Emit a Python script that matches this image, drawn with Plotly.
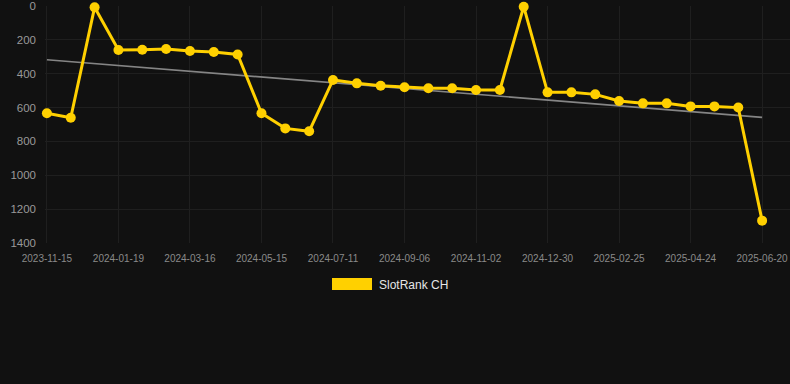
import numpy as np
import plotly.graph_objects as go

dates = [
    "2023-11-15", "2023-12-07", "2023-12-28", "2024-01-19", "2024-02-07", "2024-02-26",
    "2024-03-16", "2024-04-05", "2024-04-25", "2024-05-15", "2024-06-03", "2024-06-22",
    "2024-07-11", "2024-07-30", "2024-08-18", "2024-09-06", "2024-09-25", "2024-10-14",
    "2024-11-02", "2024-11-21", "2024-12-11", "2024-12-30", "2025-01-18", "2025-02-06",
    "2025-02-25", "2025-03-16", "2025-04-05", "2025-04-24", "2025-05-13", "2025-06-01",
    "2025-06-20",
]
rank = [
    634, 660, 8, 260, 258, 254, 266, 272, 286, 634, 723, 740, 437, 457, 471, 480,
    486, 486, 496, 496, 4, 510, 510, 522, 561, 575, 575, 593, 593, 600, 1268,
]
tick_labels = dates[::3]
y_ticks = [0, 200, 400, 600, 800, 1000, 1200, 1400]
series_name = "SlotRank CH"

idx = np.arange(len(rank))
slope, intercept = np.polyfit(idx, rank, 1)
trend = slope * idx + intercept

BG = "#111111"
GOLD = "#FFD000"
GRID = "#1f1f1f"

fig = go.Figure()
fig.add_trace(go.Scatter(
    x=dates, y=trend, mode="lines",
    line=dict(color="#858585", width=1.6),
    hoverinfo="skip", showlegend=False,
))
fig.add_trace(go.Scatter(
    x=dates, y=rank, mode="lines+markers", name=series_name,
    line=dict(color=GOLD, width=3),
    marker=dict(color=GOLD, size=10),
    cliponaxis=False, showlegend=False,
))

L, R, T, B = 45, 0, 6, 141
W, H = 790, 384
pw, ph = W - L - R, H - T - B

def px(x):
    return (x - L) / pw

def py(y):
    return (H - B - y) / ph

fig.add_shape(type="rect", xref="paper", yref="paper",
              x0=px(332), x1=px(372), y0=py(290), y1=py(278),
              fillcolor=GOLD, line=dict(width=0))
fig.add_annotation(xref="paper", yref="paper", x=px(377), y=py(285),
                   text=series_name, showarrow=False, xanchor="left", yanchor="middle",
                   font=dict(color="#e6e6e6", size=12, family="Liberation Sans, Arial, sans-serif"))

fig.update_layout(
    width=W, height=H,
    margin=dict(l=L, r=R, t=T, b=B),
    paper_bgcolor=BG, plot_bgcolor=BG,
    font=dict(family="Liberation Sans, Arial, sans-serif"),
    showlegend=False,
)
fig.update_xaxes(
    type="category", range=[-0.08, 31.17],
    tickmode="array", tickvals=tick_labels, ticktext=tick_labels,
    tickfont=dict(color="#8a8a8a", size=10), tickangle=0,
    showgrid=True, gridcolor=GRID, gridwidth=1,
    zeroline=False, showline=False, ticks="", ticklabelstandoff=8,
)
fig.update_yaxes(
    range=[1400, 0], tickmode="array", tickvals=y_ticks,
    tickfont=dict(color="#999999", size=11.5),
    showgrid=True, gridcolor=GRID, gridwidth=1,
    zeroline=False, showline=False, ticks="", ticklabelstandoff=8,
)

fig.write_html(
    "out.html",
    config={"displayModeBar": False},
    post_script="document.body.style.margin='0';document.body.style.background='#111111';"
                "document.documentElement.style.background='#111111';",
)
